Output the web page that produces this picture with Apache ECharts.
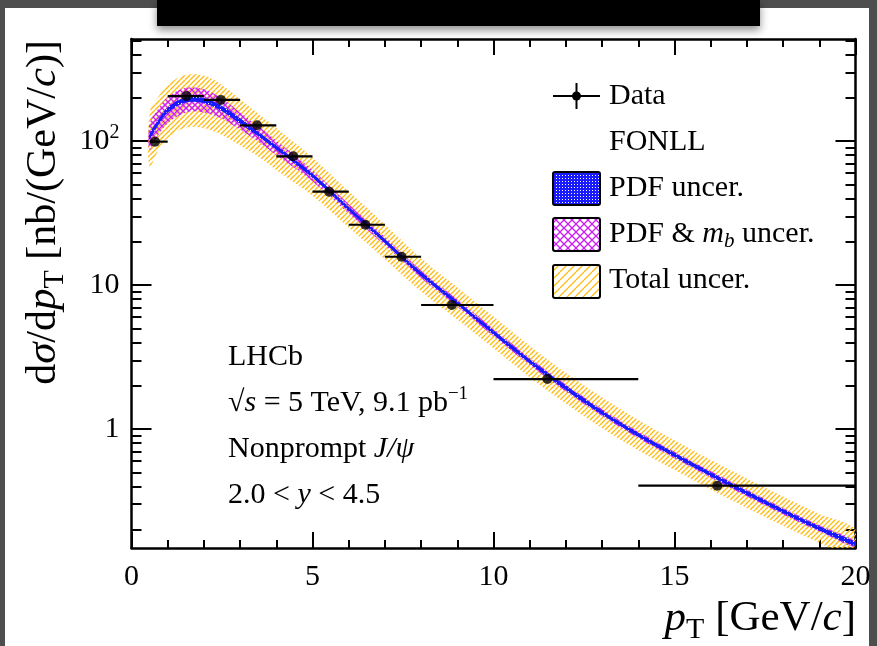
<!DOCTYPE html>
<html>
<head>
<meta charset="utf-8">
<script src="https://cdn.jsdelivr.net/npm/echarts@6/dist/echarts.min.js"></script>
<style>
html, body { margin: 0; padding: 0; width: 877px; height: 646px; overflow: hidden; background: #4e4e4e; }
#panel { position: absolute; left: 5px; top: 8px; width: 864px; height: 640px; background: #fff; }
#bar { position: absolute; left: 157px; top: 0; width: 603px; height: 26px; background: #000; box-shadow: 0 4px 8px rgba(0,0,0,0.45); }
#main { position: absolute; left: 0; top: 0; width: 877px; height: 646px; }
</style>
</head>
<body>
<div id="panel"></div>
<div id="main"></div>
<div id="bar"></div>
<script>
// data points (bin edges, bin centre, dsigma/dpT)
var binLo = [0.5, 1, 2, 3, 4, 5, 6, 7, 8, 10, 14];
var binHi = [1, 2, 3, 4, 5, 6, 7, 8, 10, 14, 20];
var dataX = [0.65, 1.52, 2.47, 3.47, 4.47, 5.46, 6.46, 7.46, 8.85, 11.49, 16.18];
var dataY = [99, 205, 193, 128.5, 78.3, 44.5, 26.2, 15.7, 7.26, 2.22, 0.404];

// FONLL prediction and its bands
var fonllX = [0.5, 0.75, 1, 1.5, 2, 2.5, 3, 3.5, 4, 5, 6, 7, 8, 9, 10, 11, 12, 13, 14, 15, 16, 17, 18, 19, 20];
var fonllC = [107, 136, 164, 193, 191, 168, 138, 112, 90, 57.5, 33.9, 20.2, 11.9, 7.5, 4.68, 2.95, 1.93, 1.30, 0.91, 0.66, 0.484, 0.359, 0.269, 0.204, 0.158];
var pdfHi = [112, 142, 171, 201, 199, 175, 144, 116, 93, 59.5, 35.0, 20.9, 12.3, 7.75, 4.85, 3.05, 2.0, 1.345, 0.94, 0.683, 0.5, 0.372, 0.278, 0.211, 0.164];
var pdfLo = [103, 130, 157, 185, 183, 161, 132, 108, 87, 55.6, 32.8, 19.5, 11.5, 7.25, 4.52, 2.85, 1.86, 1.255, 0.88, 0.638, 0.468, 0.347, 0.26, 0.197, 0.153];
var mbHi = [132, 168, 202, 234, 229, 197, 158, 127, 101, 63, 36.5, 21.6, 12.6, 7.95, 4.96, 3.12, 2.04, 1.375, 0.96, 0.695, 0.51, 0.378, 0.283, 0.215, 0.166];
var mbLo = [87, 111, 133, 158, 158, 143, 120, 99, 80, 52.5, 31.4, 18.9, 11.2, 7.07, 4.41, 2.78, 1.82, 1.23, 0.862, 0.626, 0.459, 0.34, 0.255, 0.194, 0.15];
var totHi = [158, 204, 245, 288, 285, 245, 195, 155, 123, 76.7, 44.7, 26.3, 15.3, 9.66, 6.03, 3.78, 2.45, 1.66, 1.156, 0.836, 0.61, 0.452, 0.339, 0.257, 0.20];
var totLo = [66, 87, 105, 124, 123, 110, 93, 78, 63, 41.7, 25.1, 15.1, 9.0, 5.75, 3.63, 2.29, 1.50, 1.01, 0.711, 0.518, 0.38, 0.283, 0.213, 0.162, 0.126];

// log axis tick positions
var yMajor = [1, 10, 100];
var yMinor = [0.2, 0.3, 0.4, 0.5, 0.6, 0.7, 0.8, 0.9, 2, 3, 4, 5, 6, 7, 8, 9, 20, 30, 40, 50, 60, 70, 80, 90, 200, 300, 400, 500];

var SERIF = 'Liberation Serif';
var YELLOW = '#FFBD14';
var MAGENTA = '#CC22F5';
var BLUE = '#1A1AFF';

function pairs(xs, ys) {
    return xs.map(function (x, i) { return [x, ys[i]]; });
}
function hatch(size, color, lw, dirs) {
    var c = document.createElement('canvas');
    c.width = size; c.height = size;
    var g = c.getContext('2d');
    g.strokeStyle = color; g.lineWidth = lw;
    dirs.forEach(function (d) {
        for (var k = -1; k <= 1; k++) {
            g.beginPath();
            if (d === '/') { g.moveTo(k * size, size); g.lineTo(k * size + size, 0); }
            else { g.moveTo(k * size, 0); g.lineTo(k * size + size, size); }
            g.stroke();
        }
    });
    return { image: c, repeat: 'repeat' };
}
function dots(size, color) {
    var c = document.createElement('canvas');
    c.width = size; c.height = size;
    var g = c.getContext('2d');
    g.fillStyle = color; g.fillRect(0, 0, size, size);
    g.fillStyle = '#fff'; g.fillRect(1, 1, 1, 1);
    return { image: c, repeat: 'repeat' };
}

// band = closed polygon, upper edge forwards then lower edge backwards
function band(name, lo, hi, fill, z) {
    return {
        name: name, type: 'custom', silent: true, clip: true, z: z,
        data: [[fonllX[0], fonllC[0]]],
        encode: { x: 0, y: 1 },
        renderItem: function (params, api) {
            var pts = [];
            for (var i = 0; i < fonllX.length; i++) pts.push(api.coord([fonllX[i], hi[i]]));
            for (var j = fonllX.length - 1; j >= 0; j--) pts.push(api.coord([fonllX[j], lo[j]]));
            return { type: 'polygon', shape: { points: pts, smooth: 0.35 }, style: { fill: fill } };
        }
    };
}

var chart = echarts.init(document.getElementById('main'), null, { renderer: 'canvas' });

// onZero off, otherwise the 2nd y axis jumps onto x = 0 of the top axis
var axisLine = { show: true, onZero: false, lineStyle: { color: '#000', width: 2.5 } };
var noLine = { show: false, onZero: false };
var tickStyle = { color: '#000', width: 2 };
var xBase = {
    type: 'value', min: 0, max: 20, interval: 5,
    axisLine: axisLine,
    axisTick: { show: true, inside: true, length: 16, lineStyle: tickStyle },
    minorTick: { show: true, splitNumber: 5, length: 8, lineStyle: tickStyle },
    splitLine: { show: false }
};
function yAxisDef(pos, ticks, len, withLine, label) {
    return {
        type: 'log', logBase: 10, min: 0.149, max: 511, position: pos,
        axisLine: withLine ? axisLine : noLine,
        axisTick: { show: true, inside: true, length: len, customValues: ticks, lineStyle: tickStyle },
        axisLabel: label || { show: false },
        splitLine: { show: false }
    };
}
var yLabel = {
    show: true, customValues: yMajor, color: '#000', fontFamily: SERIF, fontSize: 30, margin: 12, lineHeight: 36,
    formatter: function (v) {
        if (Math.abs(v - 100) < 1e-6) return '10{sup|2}';
        return String(Math.round(v));
    },
    rich: { sup: { fontFamily: SERIF, fontSize: 20, lineHeight: 16, verticalAlign: 'top', color: '#000' } }
};

var series = [
    band('total', totLo, totHi, hatch(5, YELLOW, 1.4, ['/']), 1),
    band('mb', mbLo, mbHi, hatch(6, MAGENTA, 1.4, ['/', '\\']), 2),
    band('pdf', pdfLo, pdfHi, dots(3, BLUE), 3),
    {
        name: 'FONLL', type: 'line', data: pairs(fonllX, fonllC), smooth: true,
        showSymbol: false, silent: true, lineStyle: { color: BLUE, width: 2 }, z: 4
    },
    {
        name: 'xerr', type: 'custom', silent: true, z: 6,
        data: binLo.map(function (lo, i) { return [lo, binHi[i], dataY[i]]; }),
        encode: { x: [0, 1], y: 2 },
        renderItem: function (params, api) {
            var a = api.coord([api.value(0), api.value(2)]);
            var b = api.coord([api.value(1), api.value(2)]);
            return { type: 'line', shape: { x1: a[0], y1: a[1], x2: b[0], y2: b[1] }, style: { stroke: '#000', lineWidth: 2.2 } };
        }
    },
    {
        name: 'Data', type: 'scatter', data: pairs(dataX, dataY), symbol: 'circle', symbolSize: 10,
        itemStyle: { color: '#000' }, silent: true, z: 7
    }
];

function txt(x, y, text, size, rich, align) {
    return {
        type: 'text', x: x, y: y, z: 100,
        style: {
            text: text, fill: '#000', fontFamily: SERIF, fontSize: size,
            align: align || 'left', verticalAlign: 'middle', rich: rich || {}
        }
    };
}
var titleRich = {
    i: { fontFamily: SERIF, fontStyle: 'italic', fontSize: 43, lineHeight: 52 },
    t: { fontFamily: SERIF, fontSize: 30, lineHeight: 32, verticalAlign: 'bottom' }
};
var yTitle = txt(44, 40, 'd{i|σ}/d{i|p}{t|T} [nb/(GeV/{i|c})]', 42, titleRich, 'right');
yTitle.rotation = Math.PI / 2;

var graphics = [
    // legend
    { type: 'line', z: 100, shape: { x1: 553, y1: 96, x2: 600, y2: 96 }, style: { stroke: '#000', lineWidth: 2 } },
    { type: 'line', z: 100, shape: { x1: 576.5, y1: 83, x2: 576.5, y2: 109 }, style: { stroke: '#000', lineWidth: 2 } },
    { type: 'circle', z: 100, shape: { cx: 576.5, cy: 96, r: 4.5 }, style: { fill: '#000' } },
    { type: 'rect', z: 100, shape: { x: 553, y: 172, width: 47, height: 33, r: 2 }, style: { fill: dots(3, BLUE), stroke: '#000', lineWidth: 2 } },
    { type: 'rect', z: 100, shape: { x: 553, y: 218, width: 47, height: 33, r: 2 }, style: { fill: hatch(8, MAGENTA, 1.3, ['/', '\\']), stroke: '#000', lineWidth: 2 } },
    { type: 'rect', z: 100, shape: { x: 553, y: 265, width: 47, height: 33, r: 2 }, style: { fill: hatch(8, YELLOW, 1.3, ['/']), stroke: '#000', lineWidth: 2 } },
    txt(609, 96, 'Data', 30),
    txt(609, 142, 'FONLL', 30),
    txt(609, 188, 'PDF uncer.', 30),
    txt(609, 234, 'PDF & {m|m}{b|b} uncer.', 30, {
        m: { fontFamily: SERIF, fontStyle: 'italic', fontSize: 30, lineHeight: 36 },
        b: { fontFamily: SERIF, fontStyle: 'italic', fontSize: 21, lineHeight: 22, verticalAlign: 'bottom' }
    }),
    txt(609, 280, 'Total uncer.', 30),
    // labels
    txt(228, 357, 'LHCb', 30),
    txt(228, 403, '√{i|s} = 5 TeV, 9.1 pb{s|−1}', 30, {
        i: { fontFamily: SERIF, fontStyle: 'italic', fontSize: 30, lineHeight: 36 },
        s: { fontFamily: SERIF, fontSize: 19, lineHeight: 18, verticalAlign: 'top' }
    }),
    txt(228, 449, 'Nonprompt {i|J/ψ}', 30, { i: { fontFamily: SERIF, fontStyle: 'italic', fontSize: 30 } }),
    txt(228, 495, '2.0 < {i|y} < 4.5', 30, { i: { fontFamily: SERIF, fontStyle: 'italic', fontSize: 30 } }),
    // axis titles
    txt(856, 619, '{i|p}{t|T} [GeV/{i|c}]', 43, titleRich, 'right'),
    yTitle
];

var option = {
    animation: false,
    grid: { left: 131.5, right: 21.5, top: 39, bottom: 98, outerBoundsMode: 'none' },
    xAxis: [
        Object.assign({}, xBase, {
            position: 'bottom',
            axisLabel: { show: true, color: '#000', fontFamily: SERIF, fontSize: 30, margin: 14 }
        }),
        Object.assign({}, xBase, { position: 'top', axisLabel: { show: false } })
    ],
    yAxis: [
        yAxisDef('left', yMajor, 20, true, yLabel),
        yAxisDef('right', yMajor, 20, true),
        yAxisDef('left', yMinor, 10, false),
        yAxisDef('right', yMinor, 10, false)
    ],
    series: series,
    graphic: graphics
};
chart.setOption(option);
</script>
</body>
</html>
